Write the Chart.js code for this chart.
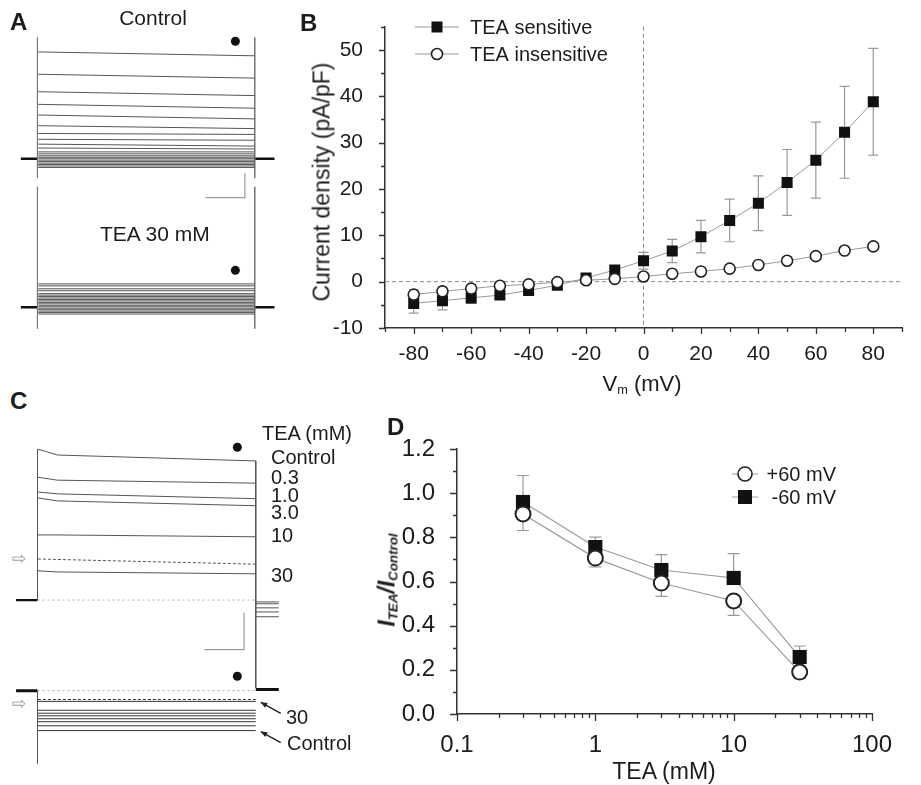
<!DOCTYPE html>
<html>
<head>
<meta charset="utf-8">
<script src="https://cdn.jsdelivr.net/npm/chart.js@4.4.1/dist/chart.umd.min.js"></script>
<style>
  body { margin: 0; background: #fff; }
  #fig { position: relative; width: 921px; height: 785px; overflow: hidden;
         font-family: "Liberation Sans", Arial, sans-serif; color: #1c1c1c; }
  #fig canvas { position: absolute; }
  .lbl { position: absolute; white-space: nowrap; line-height: 1; }
  .panel { font-weight: bold; font-size: 24px; }
  .ctr { transform: translateX(-50%); }
  .rot { transform: translate(-50%, -50%) rotate(-90deg); }
  .mid { transform: translate(-50%, -50%); }
  sub { font-size: 0.58em; vertical-align: -0.25em; line-height: 0; }
</style>
</head>
<body>
<div id="fig">
  <canvas id="chartA" width="300" height="308" style="left:0;top:28px"></canvas>
  <canvas id="chartB" width="641" height="390" style="left:280px;top:0"></canvas>
  <canvas id="chartC" width="300" height="345" style="left:0;top:430px"></canvas>
  <canvas id="chartD" width="551" height="405" style="left:370px;top:380px"></canvas>

  <div class="lbl panel" style="left:10px;top:10px">A</div>
  <div class="lbl panel" style="left:300px;top:11px">B</div>
  <div class="lbl panel" style="left:10px;top:389px">C</div>
  <div class="lbl panel" style="left:387px;top:415px">D</div>

  <div class="lbl ctr" style="left:153px;top:7px;font-size:21px">Control</div>
  <div class="lbl" style="left:100px;top:223px;font-size:21px">TEA 30 mM</div>

  <div class="lbl" style="left:262px;top:423px;font-size:20px">TEA (mM)</div>
  <div class="lbl" style="left:271px;top:447px;font-size:20px">Control</div>
  <div class="lbl" style="left:271px;top:467px;font-size:20px">0.3</div>
  <div class="lbl" style="left:271px;top:485px;font-size:20px">1.0</div>
  <div class="lbl" style="left:271px;top:502px;font-size:20px">3.0</div>
  <div class="lbl" style="left:271px;top:525px;font-size:20px">10</div>
  <div class="lbl" style="left:271px;top:565px;font-size:20px">30</div>
  <div class="lbl" style="left:286px;top:707px;font-size:20px">30</div>
  <div class="lbl" style="left:287px;top:733px;font-size:20px">Control</div>
  <div class="lbl" style="left:12px;top:550px;font-size:17px;color:#999">&#8680;</div>
  <div class="lbl" style="left:12px;top:695px;font-size:17px;color:#999">&#8680;</div>

  <div class="lbl rot" style="left:322px;top:182px;font-size:23px">Current density (pA/pF)</div>
  <div class="lbl mid" style="left:642px;top:384px;font-size:22px">V<sub>m</sub> (mV)</div>
  <div class="lbl rot" style="left:387px;top:580px;font-size:23px;font-weight:bold;font-style:italic">I<sub>TEA</sub>/I<sub>Control</sub></div>
  <div class="lbl mid" style="left:664px;top:771px;font-size:23px">TEA (mM)</div>
</div>

<script>
// ---------- B: I-V relation of TEA-sensitive / insensitive current ----------
const vmSteps = [-80, -70, -60, -50, -40, -30, -20, -10, 0, 10, 20, 30, 40, 50, 60, 70, 80];
const vmLabels = [-80, -60, -40, -20, 0, 20, 40, 60, 80];
const densityLabels = [-10, 0, 10, 20, 30, 40, 50];
const teaSensitive = [-4.7, -4.1, -3.5, -2.9, -1.9, -0.8, 0.8, 2.5, 4.5, 6.6, 9.7, 13.2, 16.9, 21.4, 26.2, 32.2, 38.8];
const teaSensitiveErr = [2.1, 2.0, 1.2, 0.9, 0.8, 0.6, 0.5, 0.9, 1.8, 2.5, 3.5, 4.6, 5.9, 7.1, 8.2, 9.9, 11.5];
const teaInsensitive = [-2.8, -2.1, -1.5, -0.9, -0.6, -0.1, 0.3, 0.6, 1.1, 1.7, 2.2, 2.8, 3.6, 4.5, 5.5, 6.7, 7.6];
const teaInsensitiveErr = [1.0, 0.9, 0.8, 0.7, 0.6, 0.5, 0.4, 0.3, 0.3, 0.3, 0.4, 0.4, 0.5, 0.5, 0.6, 0.6, 0.7];

// ---------- D: concentration dependence of block ----------
const teaConc = [0.3, 1, 3, 10, 30];
const concLabels = [0.1, 1, 10, 100];
const ratioLabels = [0, 0.2, 0.4, 0.6, 0.8, 1.0, 1.2];
const ratioPlus60 = [0.906, 0.706, 0.593, 0.512, 0.190];
const ratioPlus60Err = [0.075, 0.04, 0.06, 0.065, 0.03];
const ratioMinus60 = [0.96, 0.756, 0.652, 0.616, 0.258];
const ratioMinus60Err = [0.12, 0.045, 0.07, 0.11, 0.05];

// ---------- A: current families (nA) at start / end of each step ----------
const pulseMs = 275;
const ctlStepStart = [4.40, 3.48, 2.76, 2.24, 1.80, 1.36, 1.04, 0.80, 0.60, 0.44, 0.28, 0.20,
                      0.12, 0.06, 0.00, -0.06, -0.12, -0.18, -0.24, -0.30, -0.36];
const ctlStepEnd   = [4.24, 3.32, 2.60, 2.08, 1.64, 1.24, 1.00, 0.76, 0.52, 0.40, 0.28, 0.20,
                      0.12, 0.06, 0.00, -0.06, -0.12, -0.18, -0.24, -0.30, -0.36];
const teaStepLevel = [0.96, 0.88, 0.76, 0.68, 0.56, 0.50, 0.44, 0.38, 0.32, 0.26, 0.20, 0.14,
                      0.08, 0.02, -0.04, -0.10, -0.16, -0.22, -0.28];

// ---------- C: currents at +60 mV / -60 mV with increasing TEA (nA) ----------
const cPeak  = [4.08, 3.32, 2.92, 2.76, 1.76, 0.79];   // Control, 0.3, 1.0, 3.0, 10, 30 mM
const cEarly = [3.92, 3.24, 2.87, 2.68, 1.76, 0.76];   // at 25 ms
const cLate  = [3.76, 3.16, 2.74, 2.55, 1.71, 0.71];
const cHalfLevel = [1.11, 0.97];
const cTail = [-0.05, -0.10, -0.21, -0.32, -0.45];
const cInward = [-0.29, -0.53, -0.61, -0.68, -0.76, -0.84, -0.95, -1.08];  // 30 mM ... Control
const cInwardHalf = -0.24;

Chart.defaults.font.family = '"Liberation Sans", Arial, sans-serif';
Chart.defaults.color = '#1c1c1c';
Chart.defaults.animation = false;

const axisInk = '#333';
const lineGray = '#999';
const traceInk = '#555';

// outward tick marks, long on labelled values and short in between
const axisTicks = {
  id: 'axisTicks',
  afterDraw(chart, args, o) {
    const { ctx, chartArea } = chart;
    const xs = chart.scales.x, ys = chart.scales.y;
    ctx.save();
    ctx.strokeStyle = axisInk;
    ctx.lineWidth = 1.3;
    ctx.beginPath();
    const put = (list, len, horiz) => list.forEach(v => {
      if (horiz) {
        const px = Math.round(xs.getPixelForValue(v)) + 0.5;
        ctx.moveTo(px, chartArea.bottom);
        ctx.lineTo(px, chartArea.bottom + len);
      } else {
        const py = Math.round(ys.getPixelForValue(v)) + 0.5;
        ctx.moveTo(chartArea.left, py);
        ctx.lineTo(chartArea.left - len, py);
      }
    });
    put(o.xMajor, o.major, true); put(o.xMinor, o.minor, true);
    put(o.yMajor, o.major, false); put(o.yMinor, o.minor, false);
    ctx.stroke();
    ctx.restore();
  }
};

// mean +/- SEM whiskers, drawn under the markers
const errorBars = {
  id: 'errorBars',
  beforeDatasetsDraw(chart, args, o) {
    const { ctx } = chart;
    const ys = chart.scales.y;
    ctx.save();
    ctx.strokeStyle = o.color;
    ctx.lineWidth = 1.2;
    o.sets.forEach(set => {
      const pts = chart.getDatasetMeta(set.dataset).data;
      const vals = chart.data.datasets[set.dataset].data;
      pts.forEach((pt, i) => {
        const e = set.err[i];
        if (!e) return;
        const v = vals[i].y;
        const yHi = ys.getPixelForValue(set.dir === 'down' ? v : v + e);
        const yLo = ys.getPixelForValue(set.dir === 'up' ? v : v - e);
        ctx.beginPath();
        ctx.moveTo(pt.x, yHi);
        ctx.lineTo(pt.x, yLo);
        if (set.dir !== 'down') { ctx.moveTo(pt.x - o.cap, yHi); ctx.lineTo(pt.x + o.cap, yHi); }
        if (set.dir !== 'up') { ctx.moveTo(pt.x - o.cap, yLo); ctx.lineTo(pt.x + o.cap, yLo); }
        ctx.stroke();
      });
    });
    ctx.restore();
  }
};

// dashed reference lines through zero current and 0 mV
const zeroLines = {
  id: 'zeroLines',
  beforeDatasetsDraw(chart) {
    const { ctx, chartArea } = chart;
    const x0 = chart.scales.x.getPixelForValue(0);
    const y0 = chart.scales.y.getPixelForValue(0);
    ctx.save();
    ctx.strokeStyle = '#8a8a8a';
    ctx.lineWidth = 1;
    ctx.setLineDash([4, 3]);
    ctx.beginPath();
    ctx.moveTo(chartArea.left, y0); ctx.lineTo(chartArea.right, y0);
    ctx.moveTo(x0, chartArea.top); ctx.lineTo(x0, chartArea.bottom);
    ctx.stroke();
    ctx.restore();
  }
};

function drawMarker(ctx, style, x, y, r) {
  ctx.beginPath();
  if (style === 'rect') {
    ctx.fillStyle = '#111';
    ctx.fillRect(x - r, y - r, 2 * r, 2 * r);
  } else {
    ctx.fillStyle = '#fff';
    ctx.strokeStyle = '#222';
    ctx.lineWidth = 1.6;
    ctx.arc(x, y, r, 0, Math.PI * 2);
    ctx.fill();
    ctx.stroke();
  }
}

// legend rows: short gray line, marker, label
const markerLegend = {
  id: 'markerLegend',
  afterDraw(chart, args, o) {
    const { ctx } = chart;
    ctx.save();
    o.items.forEach((it, i) => {
      const y = o.y + i * o.rowGap;
      ctx.strokeStyle = lineGray;
      ctx.lineWidth = 1;
      ctx.beginPath();
      ctx.moveTo(o.x - o.half, y); ctx.lineTo(o.x + o.half, y);
      ctx.stroke();
      drawMarker(ctx, it.style, o.x, y, o.size);
      ctx.fillStyle = '#1c1c1c';
      ctx.font = o.font;
      ctx.textBaseline = 'middle';
      ctx.textAlign = o.align;
      ctx.fillText(it.label, o.textX, y + 1);
    });
    ctx.restore();
  }
};

function pairs(xs, ys) { return xs.map((x, i) => ({ x, y: ys[i] })); }

function range(a, b, step) {
  const out = [];
  for (let v = a; v <= b + 1e-9; v += step) out.push(Math.round(v * 100) / 100);
  return out;
}

// ---------- B ----------
new Chart(document.getElementById('chartB'), {
  type: 'scatter',
  data: {
    datasets: [
      { label: 'TEA insensitive', data: pairs(vmSteps, teaInsensitive), showLine: true,
        borderColor: lineGray, borderWidth: 1, pointStyle: 'circle', pointRadius: 5.5,
        pointBackgroundColor: '#fff', pointBorderColor: '#222', pointBorderWidth: 1.6 },
      { label: 'TEA sensitive', data: pairs(vmSteps, teaSensitive), showLine: true,
        borderColor: lineGray, borderWidth: 1, pointStyle: 'rect', pointRadius: 7.8,
        pointBackgroundColor: '#111', pointBorderColor: '#111', pointBorderWidth: 0 }
    ]
  },
  options: {
    responsive: false,
    layout: { padding: { top: 14, right: 19, left: 0, bottom: 0 } },
    plugins: {
      legend: { display: false },
      tooltip: { enabled: false },
      errorBars: { color: lineGray, cap: 5, sets: [
        { dataset: 1, err: teaSensitiveErr, dir: 'both' },
        { dataset: 0, err: teaInsensitiveErr, dir: 'both' }
      ] },
      axisTicks: { major: 6, minor: 4,
        xMajor: vmLabels, xMinor: range(-90, 90, 20),
        yMajor: densityLabels, yMinor: range(-5, 55, 10) },
      markerLegend: { x: 157, y: 27, rowGap: 27, half: 22, size: 5.5, textX: 190, align: 'left',
        font: '20px "Liberation Sans", Arial, sans-serif',
        items: [{ label: 'TEA sensitive', style: 'rect' }, { label: 'TEA insensitive', style: 'circle' }] }
    },
    scales: {
      x: {
        type: 'linear', min: -90, max: 90,
        grid: { display: false }, border: { color: axisInk, width: 1.5 },
        ticks: { font: { size: 21 }, padding: 6, maxRotation: 0, autoSkip: false },
        afterBuildTicks: s => { s.ticks = vmLabels.map(v => ({ value: v })); },
        afterFit: s => { s.height = 62; }
      },
      y: {
        type: 'linear', min: -10, max: 55,
        grid: { display: false }, border: { color: axisInk, width: 1.5 },
        ticks: { font: { size: 21 }, padding: 14, autoSkip: false },
        afterBuildTicks: s => { s.ticks = densityLabels.map(v => ({ value: v })); },
        afterFit: s => { s.width = 105; }
      }
    }
  },
  plugins: [zeroLines, errorBars, axisTicks, markerLegend]
});

// ---------- D ----------
const concMinor = [0.2, 0.3, 0.4, 0.5, 0.6, 0.7, 0.8, 0.9, 2, 3, 4, 5, 6, 7, 8, 9, 20, 30, 40, 50, 60, 70, 80, 90];
new Chart(document.getElementById('chartD'), {
  type: 'scatter',
  data: {
    datasets: [
      { label: '+60 mV', data: pairs(teaConc, ratioPlus60), showLine: true,
        borderColor: lineGray, borderWidth: 1.2, pointStyle: 'circle', pointRadius: 7.5,
        pointBackgroundColor: '#fff', pointBorderColor: '#222', pointBorderWidth: 2 },
      { label: '-60 mV', data: pairs(teaConc, ratioMinus60), showLine: true,
        borderColor: lineGray, borderWidth: 1.2, pointStyle: 'rect', pointRadius: 10,
        pointBackgroundColor: '#111', pointBorderColor: '#111', pointBorderWidth: 0 }
    ]
  },
  options: {
    responsive: false,
    layout: { padding: { top: 69, right: 49, left: 0, bottom: 0 } },
    plugins: {
      legend: { display: false },
      tooltip: { enabled: false },
      errorBars: { color: lineGray, cap: 6, sets: [
        { dataset: 1, err: ratioMinus60Err, dir: 'up' },
        { dataset: 0, err: ratioPlus60Err, dir: 'down' }
      ] },
      axisTicks: { major: 7, minor: 4,
        xMajor: concLabels, xMinor: concMinor,
        yMajor: ratioLabels, yMinor: [0.1, 0.3, 0.5, 0.7, 0.9, 1.1] },
      markerLegend: { x: 375, y: 94, rowGap: 23, half: 13, size: 7, textX: 466, align: 'right',
        font: '20px "Liberation Sans", Arial, sans-serif',
        items: [{ label: '+60 mV', style: 'circle' }, { label: '-60 mV', style: 'rect' }] }
    },
    scales: {
      x: {
        type: 'logarithmic', min: 0.1, max: 100,
        grid: { display: false }, border: { color: axisInk, width: 1.5 },
        ticks: { font: { size: 24 }, padding: 9, maxRotation: 0, autoSkip: false,
                 callback: v => String(v) },
        afterBuildTicks: s => { s.ticks = concLabels.map(v => ({ value: v, major: true })); },
        afterFit: s => { s.height = 71; }
      },
      y: {
        type: 'linear', min: 0, max: 1.2,
        grid: { display: false }, border: { color: axisInk, width: 1.5 },
        ticks: { font: { size: 24 }, padding: 14, autoSkip: false, callback: v => v.toFixed(1) },
        afterBuildTicks: s => { s.ticks = ratioLabels.map(v => ({ value: v })); },
        afterFit: s => { s.width = 87; }
      }
    }
  },
  plugins: [errorBars, axisTicks, markerLegend]
});

// ---------- trace panels ----------
function seg(points, axis, extra) {
  return Object.assign({ data: points, yAxisID: axis, showLine: true, pointRadius: 0,
    borderColor: traceInk, borderWidth: 1 }, extra || {});
}
const holdingStyle = { borderColor: '#111', borderWidth: 2.4 };
const barStyle = { borderColor: '#9a9a9a', borderWidth: 1.2 };
const dot = (x, y, axis) => ({ data: [{ x, y }], yAxisID: axis, showLine: false,
  pointRadius: 4.5, pointBackgroundColor: '#111', pointBorderWidth: 0 });
const hiddenLinear = (min, max) => ({ type: 'linear', display: false, min, max });

// A: control (upper) and TEA 30 mM (lower) families
const aSets = [];
ctlStepStart.forEach((s, i) => aSets.push(seg([{ x: 1, y: s }, { x: pulseMs, y: ctlStepEnd[i] }], 'yCtl')));
teaStepLevel.forEach(v => aSets.push(seg([{ x: 1, y: v }, { x: pulseMs, y: v }], 'yTea')));
aSets.push(
  seg([{ x: 0, y: 5.0 }, { x: 0, y: -0.8 }], 'yCtl', { borderColor: '#777' }),
  seg([{ x: pulseMs, y: 5.0 }, { x: pulseMs, y: -0.8 }], 'yCtl', { borderColor: '#777' }),
  seg([{ x: 0, y: 4.96 }, { x: 0, y: -0.88 }], 'yTea', { borderColor: '#777' }),
  seg([{ x: pulseMs, y: 4.96 }, { x: pulseMs, y: -0.88 }], 'yTea', { borderColor: '#777' }),
  seg([{ x: -21, y: 0 }, { x: 0, y: 0 }], 'yCtl', holdingStyle),
  seg([{ x: pulseMs, y: 0 }, { x: pulseMs + 25, y: 0 }], 'yCtl', holdingStyle),
  seg([{ x: -21, y: 0 }, { x: 0, y: 0 }], 'yTea', holdingStyle),
  seg([{ x: pulseMs, y: 0 }, { x: pulseMs + 25, y: 0 }], 'yTea', holdingStyle),
  seg([{ x: 262.5, y: -0.6 }, { x: 262.5, y: -1.6 }, { x: 212.5, y: -1.6 }], 'yCtl', barStyle),
  dot(250.5, 4.84, 'yCtl'),
  dot(250.5, 1.52, 'yTea')
);

new Chart(document.getElementById('chartA'), {
  type: 'scatter',
  data: { datasets: aSets },
  options: {
    responsive: false,
    layout: { padding: 0 },
    plugins: { legend: { display: false }, tooltip: { enabled: false } },
    scales: { x: hiddenLinear(-41.7, 326.6), yCtl: hiddenLinear(-7.12, 5.2), yTea: hiddenLinear(-1.0, 11.32) }
  }
});

// C: outward currents at +60 mV (upper) and inward at -60 mV (lower)
const cSets = [];
cPeak.forEach((p, i) => cSets.push(seg([{ x: 0.5, y: p }, { x: 25, y: cEarly[i] }, { x: pulseMs, y: cLate[i] }], 'yTop')));
cTail.forEach(v => cSets.push(seg([{ x: pulseMs, y: v }, { x: pulseMs + 29, y: v }], 'yTop')));
cInward.forEach(v => cSets.push(seg([{ x: 0.5, y: v }, { x: pulseMs, y: v }], 'yBot', { borderColor: '#333' })));
cSets.push(
  seg([{ x: 0.5, y: cHalfLevel[0] }, { x: pulseMs, y: cHalfLevel[1] }], 'yTop', { borderDash: [3, 2] }),
  seg([{ x: 0.5, y: cInwardHalf }, { x: pulseMs, y: cInwardHalf }], 'yBot', { borderDash: [3, 2], borderColor: '#333' }),
  seg([{ x: 0, y: 0 }, { x: pulseMs, y: 0 }], 'yTop', { borderColor: '#aaa', borderDash: [2, 3] }),
  seg([{ x: 0, y: 0 }, { x: pulseMs, y: 0 }], 'yBot', { borderColor: '#aaa', borderDash: [2, 3] }),
  seg([{ x: 0, y: 0 }, { x: 0, y: cPeak[0] }], 'yTop'),
  seg([{ x: pulseMs, y: cLate[0] }, { x: pulseMs, y: -2.37 }], 'yTop'),
  seg([{ x: 0, y: 0 }, { x: 0, y: -1.97 }], 'yBot'),
  seg([{ x: -27, y: 0 }, { x: 0, y: 0 }], 'yTop', holdingStyle),
  seg([{ x: -27, y: 0 }, { x: 0, y: 0 }], 'yBot', { borderColor: '#111', borderWidth: 3 }),
  seg([{ x: pulseMs, y: 0.03 }, { x: pulseMs + 29, y: 0.03 }], 'yBot', { borderColor: '#111', borderWidth: 3 }),
  seg([{ x: 260.3, y: -0.34 }, { x: 260.3, y: -1.34 }, { x: 210.3, y: -1.34 }], 'yTop', barStyle),
  dot(251.8, 4.13, 'yTop'),
  dot(251.8, 0.39, 'yBot')
);

// arrows from the "30" / "Control" labels to the ends of the inward traces
const traceArrows = {
  id: 'traceArrows',
  afterDatasetsDraw(chart, args, o) {
    const { ctx } = chart;
    const xs = chart.scales.x, ys = chart.scales[o.axis];
    ctx.save();
    ctx.strokeStyle = ctx.fillStyle = '#222';
    ctx.lineWidth = 1.3;
    o.levels.forEach(v => {
      const tx = xs.getPixelForValue(pulseMs) + 5, ty = ys.getPixelForValue(v) + 1;
      const sx = tx + 20, sy = ty + 11;
      const a = Math.atan2(ty - sy, tx - sx);
      ctx.beginPath(); ctx.moveTo(sx, sy); ctx.lineTo(tx, ty); ctx.stroke();
      ctx.beginPath();
      ctx.moveTo(tx, ty);
      ctx.lineTo(tx - 7 * Math.cos(a - 0.4), ty - 7 * Math.sin(a - 0.4));
      ctx.lineTo(tx - 7 * Math.cos(a + 0.4), ty - 7 * Math.sin(a + 0.4));
      ctx.closePath(); ctx.fill();
    });
    ctx.restore();
  }
};

new Chart(document.getElementById('chartC'), {
  type: 'scatter',
  data: { datasets: cSets },
  options: {
    responsive: false,
    layout: { padding: 0 },
    plugins: { legend: { display: false }, tooltip: { enabled: false },
      traceArrows: { axis: 'yBot', levels: [cInward[0], cInward[cInward.length - 1]] } },
    scales: { x: hiddenLinear(-41.6, 325.1), yTop: hiddenLinear(-4.605, 4.474), yBot: hiddenLinear(-2.158, 6.921) }
  },
  plugins: [traceArrows]
});
</script>
</body>
</html>
